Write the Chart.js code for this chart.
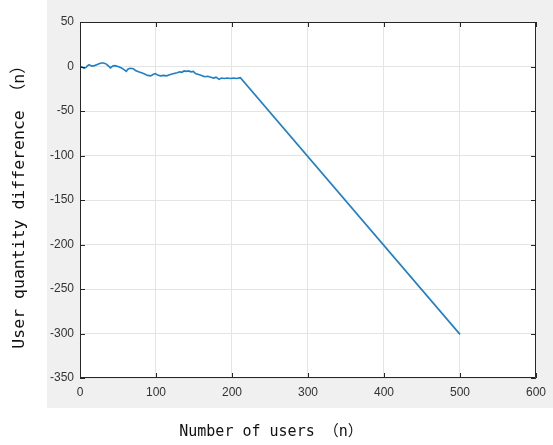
<!DOCTYPE html>
<html>
<head>
<meta charset="utf-8">
<script src="https://cdn.jsdelivr.net/npm/chart.js@4/dist/chart.umd.min.js"></script>
<style>
  html, body { margin: 0; padding: 0; background: #fff; }
  #wrap { width: 553px; height: 445px; }
</style>
</head>
<body>
<div id="wrap"><canvas id="diffChart" width="553" height="445"></canvas></div>
<script>
// user count vs. user quantity difference
const userCount = [0, 3, 5, 8, 10, 12, 14, 16, 19, 22, 25, 28, 31, 34, 37, 40, 43, 46, 50, 54,
    57, 61, 63, 66, 70, 73, 77, 81, 85, 89, 93, 96, 99, 102, 106, 110, 114, 117, 121, 125,
    128, 131, 134, 137, 140, 143, 146, 149, 152, 156, 160, 164, 168, 172, 176, 179, 183, 186,
    190, 194, 198, 202, 206, 211, 500];
const quantityDiff = [0, -0.5, -2, -1, 1, 2, 1, 0.5, 1, 2, 3, 4, 4, 3, 1, -1.5, 0.5, 1, 0, -1.5,
    -3, -5.5, -3, -2, -2.5, -4.5, -6, -7, -8.5, -10, -10.5, -9, -8, -9.5, -10.5, -10, -10.5, -9.5, -8.5, -7.5,
    -7, -6, -6.5, -5, -5.5, -5, -6, -5.5, -8, -9, -10, -11.5, -11, -12, -13, -12, -14.5, -13,
    -13.5, -13, -13.5, -13, -13.5, -12.5, -301];

const xTicks = [0, 100, 200, 300, 400, 500, 600];
const yTicks = [50, 0, -50, -100, -150, -200, -250, -300, -350];

const xTitle = "Number of users （n）";
const yTitle = "User quantity difference （n）";

const points = userCount.map((x, i) => ({ x: x, y: quantityDiff[i] }));

const figurePlugin = {
    id: "figure",
    beforeDraw(chart) {
        const { ctx, chartArea: a } = chart;
        ctx.save();
        ctx.fillStyle = "#ffffff";
        ctx.fillRect(0, 0, chart.width, chart.height);
        ctx.fillStyle = "#f0f0f0";
        ctx.fillRect(47, 0, chart.width - 47, 408);
        ctx.fillStyle = "#ffffff";
        ctx.fillRect(a.left, a.top, a.right - a.left, a.bottom - a.top);
        ctx.restore();
    },
    afterDraw(chart) {
        const { ctx, chartArea: a } = chart;
        const xs = chart.scales.x, ys = chart.scales.y;
        ctx.save();
        // box and inward ticks
        ctx.strokeStyle = "#262626";
        ctx.lineWidth = 1;
        ctx.beginPath();
        ctx.rect(a.left + 0.5, a.top + 0.5, a.right - a.left - 1, a.bottom - a.top - 1);
        xTicks.forEach(v => {
            const px = Math.round(xs.getPixelForValue(v)) + 0.5;
            ctx.moveTo(px, a.bottom); ctx.lineTo(px, a.bottom - 5);
            ctx.moveTo(px, a.top); ctx.lineTo(px, a.top + 5);
        });
        yTicks.forEach(v => {
            const py = Math.round(ys.getPixelForValue(v)) + 0.5;
            ctx.moveTo(a.left, py); ctx.lineTo(a.left + 5, py);
            ctx.moveTo(a.right, py); ctx.lineTo(a.right - 5, py);
        });
        ctx.stroke();

        // axis titles
        ctx.fillStyle = "#111111";
        ctx.textAlign = "center";
        ctx.textBaseline = "middle";
        ctx.font = '15px "DejaVu Sans Mono", "Noto Sans CJK SC", monospace';
        ctx.fillText(xTitle, 271, 432);
        ctx.font = '16.5px "DejaVu Sans Mono", "Noto Sans CJK SC", monospace';
        ctx.translate(20, 203);
        ctx.rotate(-Math.PI / 2);
        ctx.fillText(yTitle, 0, 0);
        ctx.restore();
    }
};

const ctx = document.getElementById("diffChart").getContext("2d");
new Chart(ctx, {
    type: "line",
    data: {
        datasets: [{
            data: points,
            borderColor: "#1f7fc4",
            borderWidth: 1.6,
            pointRadius: 0,
            tension: 0,
            fill: false
        }]
    },
    options: {
        responsive: false,
        animation: false,
        layout: { padding: { top: 22, right: 16, left: 0, bottom: 0 } },
        plugins: { legend: { display: false }, tooltip: { enabled: false } },
        scales: {
            x: {
                type: "linear",
                min: 0,
                max: 600,
                afterFit: s => { s.height = 67; },
                afterBuildTicks: s => { s.ticks = xTicks.map(v => ({ value: v })); },
                grid: { color: "#e4e4e4", drawTicks: false },
                border: { display: false },
                ticks: {
                    padding: 7,
                    color: "#333333",
                    maxRotation: 0,
                    font: { family: "'Liberation Sans', Arial, sans-serif", size: 12 }
                }
            },
            y: {
                type: "linear",
                min: -350,
                max: 50,
                afterFit: s => { s.width = 80; },
                afterBuildTicks: s => { s.ticks = yTicks.map(v => ({ value: v })); },
                grid: { color: "#e4e4e4", drawTicks: false },
                border: { display: false },
                ticks: {
                    padding: 6,
                    color: "#333333",
                    font: { family: "'Liberation Sans', Arial, sans-serif", size: 12 }
                }
            }
        }
    },
    plugins: [figurePlugin]
});
</script>
</body>
</html>
